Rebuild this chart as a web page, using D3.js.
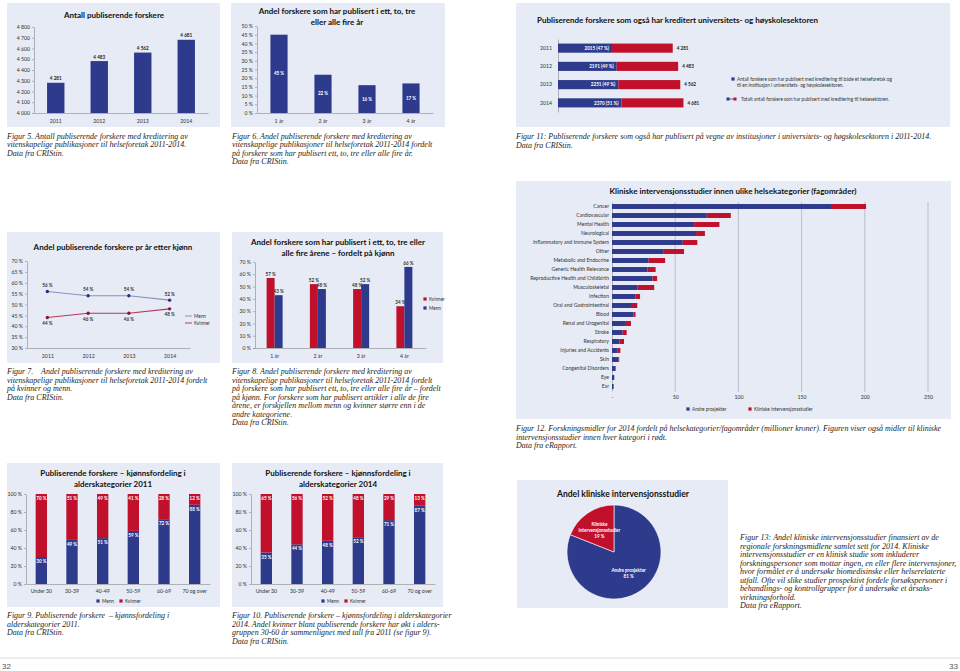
<!DOCTYPE html>
<html><head><meta charset="utf-8">
<script src="https://cdn.jsdelivr.net/npm/d3@7"></script>
<style>
body{margin:0;background:#fff}
svg{display:block}
.cap{font-family:"Liberation Serif",serif;font-style:italic;font-size:8px;fill:#1e1e1e}
.ttl{font-family:Lato,"Open Sans",sans-serif;font-weight:700;fill:#111}
.ax text{font-family:Lato,sans-serif;font-size:5.2px;fill:#333}
.ax path,.ax line{stroke:#8a8a8a;stroke-width:0.6}
.lab{font-family:Lato,sans-serif;font-weight:700;font-size:4.6px}
.leg{font-family:Lato,sans-serif;font-size:4.7px;fill:#333}
</style></head><body>
<svg id="c" width="960" height="671"></svg>
<script>
// ---------- DATA ----------
const years = ["2011", "2012", "2013", "2014"];
const fig5Counts = [4281, 4483, 4562, 4681];
const fig5Ticks = [4000, 4100, 4200, 4300, 4400, 4500, 4600, 4700, 4800];

const fig6Cats = ["1 år", "2 år", "3 år", "4 år"];
const fig6Shares = [45, 22, 16, 17];
const pctTicks50 = [0, 5, 10, 15, 20, 25, 30, 35, 40, 45, 50];

const fig7Menn = [56, 54, 54, 52];
const fig7Kvinner = [44, 46, 46, 48];
const fig7Ticks = [30, 35, 40, 45, 50, 55, 60, 65, 70];

const fig8Kvinner = [57, 52, 48, 34];
const fig8Menn = [43, 48, 52, 66];
const fig8Ticks = [0, 10, 20, 30, 40, 50, 60, 70];

const ageCats = ["Under 30", "30-39", "40-49", "50-59", "60-69", "70 og over"];
const fig9Menn = [30, 49, 51, 59, 72, 88];
const fig9Kvinner = [70, 51, 49, 41, 28, 12];
const fig10Menn = [35, 44, 48, 52, 71, 87];
const fig10Kvinner = [65, 56, 52, 48, 29, 13];
const pctTicks100 = [0, 20, 40, 60, 80, 100];

const fig11Both = [2015, 2191, 2251, 2370];
const fig11BothPct = [47, 49, 49, 51];
const fig11Total = [4281, 4483, 4562, 4681];

const fig12Cats = ["Cancer", "Cardiovascular", "Mental Health", "Neurological", "Inflammatory and Immune System", "Other", "Metabolic and Endocrine", "Generic Health Relevance", "Reproductive Health and Childbirth", "Musculoskeletal", "Infection", "Oral and Gastrointestinal", "Blood", "Renal and Urogenital", "Stroke", "Respiratory", "Injuries and Accidents", "Skin", "Congenital Disorders", "Eye", "Ear"];
const fig12Andre = [174, 75, 65, 66.5, 56, 41, 29, 28, 32, 20, 18.7, 15, 17, 11, 8.4, 5.8, 4.5, 5.3, 2.9, 1.8, 1.3];
const fig12Kliniske = [27, 19, 20, 7, 11.5, 16, 13, 6.5, 3.7, 13.4, 3.5, 5, 1.6, 4, 3.2, 3.7, 2.1, 0.4, 0, 0, 0];
const fig12Ticks = [0, 50, 100, 150, 200, 250];

const fig13Labels = ["Andre prosjekter", "Kliniske intervensjonsstudier"];
const fig13Shares = [81, 19];

// ---------- HELPERS ----------
const svg = d3.select("#c");
const BG = "#e6ebf5", NAVY = "#2e3b8c", RED = "#c1102b";
const nf = d3.formatLocale({decimal: ",", thousands: "\u00a0", grouping: [3], currency: ["", ""]}).format(",");
const pf = d => d + " %";

function panel(x, y, w, h) {
  svg.append("rect").attr("x", x).attr("y", y).attr("width", w).attr("height", h).attr("fill", BG);
}
function title(cx, ys, lines, size, anchor) {
  lines.forEach((t, i) => svg.append("text").attr("class", "ttl").attr("x", cx).attr("y", ys[i])
    .attr("text-anchor", anchor || "middle").attr("font-size", size).text(t));
}
function caption(x, y0, lines, step, size) {
  step = step || 8.5;
  lines.forEach((t, i) => {
    const el = svg.append("text").attr("class", "cap").attr("x", x).attr("y", y0 + i * step)
      .attr("xml:space", "preserve").text(t);
    if (size) el.style("font-size", size + "px");
  });
}
function yAxis(x, scale, ticks, fmt) {
  return svg.append("g").attr("class", "ax").attr("transform", `translate(${x},0)`)
    .call(d3.axisLeft(scale).tickValues(ticks).tickFormat(fmt).tickSize(2).tickSizeOuter(0).tickPadding(2));
}
function xAxis(y, scale, pad) {
  return svg.append("g").attr("class", "ax").attr("transform", `translate(0,${y})`)
    .call(d3.axisBottom(scale).tickSize(0).tickSizeOuter(0).tickPadding(pad));
}
function legSquare(x, y, color, text) {
  svg.append("rect").attr("x", x - 1.6).attr("y", y - 1.6).attr("width", 3.2).attr("height", 3.2).attr("fill", color);
  svg.append("text").attr("class", "leg").attr("x", x + 4).attr("y", y + 1.6).text(text);
}

// ---------- FIG 5 ----------
(function () {
  panel(7, 3, 213, 124);
  title(114, [18], ["Antall publiserende forskere"], 8);
  const y = d3.scaleLinear().domain([4000, 4800]).range([113, 27]);
  const x = d3.scaleBand().domain(years).range([34, 208]).paddingInner(0.6).paddingOuter(0.3);
  yAxis(34, y, fig5Ticks, nf);
  xAxis(113, x, 6);
  svg.selectAll(".b5").data(fig5Counts).enter().append("rect")
    .attr("x", (d, i) => x(years[i])).attr("width", x.bandwidth())
    .attr("y", d => y(d)).attr("height", d => y(4000) - y(d)).attr("fill", NAVY);
  svg.selectAll(".l5").data(fig5Counts).enter().append("text").attr("class", "lab")
    .attr("x", (d, i) => x(years[i]) + x.bandwidth() / 2).attr("y", d => y(d) - 2.5)
    .attr("text-anchor", "middle").attr("fill", "#222").text(nf);
  caption(7, 138.5, ["Figur 5. Antall publiserende forskere med kreditering av",
    "vitenskapelige publikasjoner til helseforetak 2011-2014.", "Data fra CRIStin."]);
})();

// ---------- FIG 6 ----------
(function () {
  panel(231, 3, 214, 124);
  title(337, [14, 25], ["Andel forskere som har publisert i ett, to, tre", "eller alle fire år"], 8);
  const y = d3.scaleLinear().domain([0, 50]).range([113, 26]);
  const x = d3.scaleBand().domain(fig6Cats).range([257, 433]).paddingInner(0.61).paddingOuter(0.305);
  yAxis(257, y, pctTicks50, pf);
  xAxis(113, x, 6);
  svg.selectAll(".b6").data(fig6Shares).enter().append("rect")
    .attr("x", (d, i) => x(fig6Cats[i])).attr("width", x.bandwidth())
    .attr("y", d => y(d)).attr("height", d => y(0) - y(d)).attr("fill", NAVY);
  svg.selectAll(".l6").data(fig6Shares).enter().append("text").attr("class", "lab")
    .attr("x", (d, i) => x(fig6Cats[i]) + x.bandwidth() / 2).attr("y", d => (y(d) + y(0)) / 2 + 1.6)
    .attr("text-anchor", "middle").attr("fill", "#fff").text(pf);
  caption(232, 138.5, ["Figur 6. Andel publiserende forskere med kreditering av",
    "vitenskapelige publikasjoner til helseforetak 2011-2014 fordelt",
    "på forskere som har publisert ett, to, tre eller alle fire år.", "Data fra CRIStin."]);
})();

// ---------- FIG 11 ----------
(function () {
  panel(516, 3, 434, 124);
  title(537, [23], ["Publiserende forskere som også har kreditert universitets- og høyskolesektoren"], 8, "start");
  const y = d3.scaleBand().domain(years).range([39, 112]).paddingInner(0.5).paddingOuter(0.25);
  const x = d3.scaleLinear().domain([0, 5000]).range([558, 692]);
  svg.append("g").attr("class", "ax").attr("transform", "translate(558,0)")
    .call(d3.axisLeft(y).tickSize(0).tickSizeOuter(0).tickPadding(6));
  years.forEach((yr, i) => {
    svg.append("rect").attr("x", x(0)).attr("y", y(yr)).attr("width", x(fig11Both[i]) - x(0))
      .attr("height", y.bandwidth()).attr("fill", NAVY);
    svg.append("rect").attr("x", x(fig11Both[i])).attr("y", y(yr)).attr("width", x(fig11Total[i]) - x(fig11Both[i]))
      .attr("height", y.bandwidth()).attr("fill", RED);
    svg.append("text").attr("class", "lab").attr("x", x(fig11Both[i]) - 3).attr("y", y(yr) + y.bandwidth() / 2 + 1.7)
      .attr("text-anchor", "end").attr("fill", "#fff").text(`${fig11Both[i]} (${fig11BothPct[i]} %)`);
    svg.append("text").attr("class", "lab").attr("x", x(fig11Total[i]) + 4).attr("y", y(yr) + y.bandwidth() / 2 + 1.8)
      .attr("fill", "#222").attr("font-size", 5.3).text(nf(fig11Total[i]));
  });
  legSquare(733, 79, NAVY, "Antall forskere som har publisert med kreditering til både et helseforetak og");
  svg.append("text").attr("class", "leg").attr("x", 737).attr("y", 86.6).text("til en institusjon i universitets- og høyskolesektoren.");
  svg.append("line").attr("x1", 728).attr("x2", 735).attr("y1", 99).attr("y2", 99).attr("stroke", NAVY).attr("stroke-width", 0.8);
  svg.append("rect").attr("x", 726.5).attr("y", 97.5).attr("width", 3).attr("height", 3).attr("fill", NAVY);
  svg.append("rect").attr("x", 733.5).attr("y", 97.5).attr("width", 3).attr("height", 3).attr("fill", RED);
  svg.append("text").attr("class", "leg").attr("x", 741).attr("y", 100.6).text("Totalt antall forskere som har publisert med kreditering til helsesektoren.");
  caption(516, 139, ["Figur 11: Publiserende forskere som også har publisert på vegne av institusjoner i universitets- og høgskolesektoren i 2011-2014.",
    "Data fra CRIStin."]);
})();

// ---------- FIG 12 ----------
(function () {
  panel(516, 181, 435, 238);
  title(733, [194], ["Kliniske intervensjonsstudier innen ulike helsekategorier (fagområder)"], 8);
  const x = d3.scaleLinear().domain([0, 250]).range([612, 928]);
  const y = d3.scaleBand().domain(fig12Cats).range([202, 391]).paddingInner(0.45).paddingOuter(0.225);
  svg.append("g").selectAll("line").data(fig12Ticks.slice(1)).enter().append("line")
    .attr("x1", d => x(d)).attr("x2", d => x(d)).attr("y1", 202).attr("y2", 392)
    .attr("stroke", "#a6abbd").attr("stroke-width", 0.7);
  const xa = svg.append("g").attr("class", "ax").attr("transform", "translate(0,391)")
    .call(d3.axisBottom(x).tickValues(fig12Ticks).tickFormat(d => d === 0 ? "-" : d).tickSize(0).tickPadding(4));
  xa.select(".domain").remove();
  const ya = svg.append("g").attr("class", "ax").attr("transform", "translate(612,0)")
    .call(d3.axisLeft(y).tickSize(0).tickSizeOuter(0).tickPadding(3));
  ya.selectAll("text").style("font-size", "5.1px");
  fig12Cats.forEach((c, i) => {
    svg.append("rect").attr("x", x(0)).attr("y", y(c)).attr("width", x(fig12Andre[i]) - x(0))
      .attr("height", y.bandwidth()).attr("fill", NAVY);
    svg.append("rect").attr("x", x(fig12Andre[i])).attr("y", y(c))
      .attr("width", x(fig12Andre[i] + fig12Kliniske[i]) - x(fig12Andre[i]))
      .attr("height", y.bandwidth()).attr("fill", RED);
  });
  legSquare(688, 409, NAVY, "Andre prosjekter");
  legSquare(750, 409, RED, "Kliniske intervensjonsstudier");
  caption(516, 431, ["Figur 12. Forskningsmidler for 2014 fordelt på helsekategorier/fagområder (millioner kroner). Figuren viser også midler til kliniske",
    "intervensjonsstudier innen hver kategori i rødt.", "Data fra eRapport."]);
})();

// ---------- FIG 7 ----------
(function () {
  panel(7, 232, 213, 131);
  title(113, [250], ["Andel publiserende forskere pr år etter kjønn"], 8);
  const y = d3.scaleLinear().domain([30, 70]).range([348, 261]);
  const x = d3.scalePoint().domain(years).range([27, 190]).padding(0.5);
  yAxis(27, y, fig7Ticks, pf);
  xAxis(348, x, 6);
  const series = [
    {vals: fig7Menn, line: "#8592bf", mark: "#26307a", off: -4.5, name: "Menn"},
    {vals: fig7Kvinner, line: "#b63a5c", mark: "#8a1436", off: 7.5, name: "Kvinner"}
  ];
  series.forEach((s, k) => {
    svg.append("path").datum(s.vals).attr("fill", "none").attr("stroke", s.line).attr("stroke-width", 1.1)
      .attr("d", d3.line().x((d, i) => x(years[i])).y(d => y(d)));
    svg.selectAll(null).data(s.vals).enter().append("circle")
      .attr("cx", (d, i) => x(years[i])).attr("cy", d => y(d)).attr("r", 1.7).attr("fill", s.mark);
    svg.selectAll(null).data(s.vals).enter().append("text").attr("class", "lab").attr("fill", "#333")
      .attr("x", (d, i) => x(years[i])).attr("y", d => y(d) + s.off).attr("text-anchor", "middle").text(pf);
    svg.append("line").attr("x1", 185).attr("x2", 192).attr("y1", 316 + 7 * k).attr("y2", 316 + 7 * k)
      .attr("stroke", s.line).attr("stroke-width", 1);
    svg.append("text").attr("class", "leg").attr("x", 194).attr("y", 317.6 + 7 * k).text(s.name);
  });
  caption(7, 374, ["Figur 7.    Andel publiserende forskere med kreditering av",
    "vitenskapelige publikasjoner til helseforetak 2011-2014 fordelt",
    "på kvinner og menn.", "Data fra CRIStin."]);
})();

// ---------- FIG 8 ----------
(function () {
  panel(232, 232, 211, 131);
  title(338, [245, 256], ["Andel forskere som har publisert i ett, to, tre eller", "alle fire årene – fordelt på kjønn"], 8);
  const y = d3.scaleLinear().domain([0, 70]).range([348, 262]);
  const x = d3.scaleBand().domain(fig6Cats).range([253, 426]).paddingInner(0.63).paddingOuter(0.315);
  const xs = d3.scaleBand().domain(["Kvinner", "Menn"]).range([0, x.bandwidth()]);
  yAxis(255, y, fig8Ticks, pf);
  xAxis(348, x, 6);
  const groups = [{name: "Kvinner", vals: fig8Kvinner, col: RED}, {name: "Menn", vals: fig8Menn, col: NAVY}];
  groups.forEach((s, k) => {
    svg.selectAll(null).data(s.vals).enter().append("rect")
      .attr("x", (d, i) => x(fig6Cats[i]) + xs(s.name)).attr("width", xs.bandwidth())
      .attr("y", d => y(d)).attr("height", d => y(0) - y(d)).attr("fill", s.col);
    svg.selectAll(null).data(s.vals).enter().append("text").attr("class", "lab").attr("fill", "#333")
      .attr("x", (d, i) => x(fig6Cats[i]) + xs(s.name) + xs.bandwidth() / 2).attr("y", d => y(d) - 2)
      .attr("text-anchor", "middle").text(pf);
    legSquare(425, 299 + 9 * k, s.col, s.name);
  });
  caption(232, 374, ["Figur 8. Andel publiserende forskere med kreditering av",
    "vitenskapelige publikasjoner til helseforetak 2011-2014 fordelt",
    "på forskere som har publisert ett, to, tre eller alle fire år – fordelt",
    "på kjønn. For forskere som har publisert artikler i alle de fire",
    "årene, er forskjellen mellom menn og kvinner større enn i de",
    "andre kategoriene.", "Data fra CRIStin."]);
})();

// ---------- FIG 9 / FIG 10 ----------
function ageChart(dx, yr, menn, kvinner, capLines) {
  panel(7 + dx, 463, 213 - (dx ? 2 : 0), 144);
  title(113 + dx, [476, 487], ["Publiserende forskere – kjønnsfordeling i", "alderskategorier " + yr], 8);
  const y = d3.scaleLinear().domain([0, 100]).range([584, 494]);
  const x = d3.scaleBand().domain(ageCats).range([26 + dx, 210 + dx]).paddingInner(0.63).paddingOuter(0.315);
  yAxis(26 + dx, y, pctTicks100, pf);
  xAxis(584, x, 5);
  ageCats.forEach((c, i) => {
    svg.append("rect").attr("x", x(c)).attr("width", x.bandwidth()).attr("y", y(menn[i]))
      .attr("height", y(0) - y(menn[i])).attr("fill", NAVY);
    svg.append("rect").attr("x", x(c)).attr("width", x.bandwidth()).attr("y", y(menn[i] + kvinner[i]))
      .attr("height", y(menn[i]) - y(menn[i] + kvinner[i])).attr("fill", RED);
    svg.append("text").attr("class", "lab").attr("fill", "#fff").attr("text-anchor", "middle")
      .attr("x", x(c) + x.bandwidth() / 2).attr("y", y(menn[i]) + 6).text(pf(menn[i]));
    svg.append("text").attr("class", "lab").attr("fill", "#fff").attr("text-anchor", "middle")
      .attr("x", x(c) + x.bandwidth() / 2).attr("y", y(menn[i] + kvinner[i]) + 6).text(pf(kvinner[i]));
  });
  legSquare(98 + dx, 601, NAVY, "Menn");
  legSquare(121 + dx, 601, RED, "Kvinner");
  caption(7 + dx, 618, capLines);
}
ageChart(0, 2011, fig9Menn, fig9Kvinner, ["Figur 9. Publiserende forskere  – kjønnsfordeling i",
  "alderskategorier 2011.", "Data fra CRIStin."]);
ageChart(225, 2014, fig10Menn, fig10Kvinner, ["Figur 10. Publiserende forskere – kjønnsfordeling i alderskategorier",
  "2014. Andel kvinner blant publiserende forskere har økt i alders-",
  "gruppen 30-60 år sammenlignet med tall fra 2011 (se figur 9).", "Data fra CRIStin."]);

// ---------- FIG 13 ----------
(function () {
  panel(517, 480, 211, 128);
  title(623, [497], ["Andel kliniske intervensjonsstudier"], 8.5);
  const r = 47, cx = 614, cy = 552;
  const pie = d3.pie().sort(null).value(d => d);
  const arcs = pie(fig13Shares);
  const arc = d3.arc().innerRadius(0).outerRadius(r);
  const lab = d3.arc().innerRadius(26).outerRadius(26);
  const g = svg.append("g").attr("transform", `translate(${cx},${cy})`);
  g.selectAll("path").data(arcs).enter().append("path").attr("d", arc)
    .attr("fill", (d, i) => i === 0 ? NAVY : RED).attr("stroke", "#fff").attr("stroke-width", 0.6);
  const lines = [["Andre prosjekter", fig13Shares[0] + " %"], ["Kliniske", "intervensjonsstudier", fig13Shares[1] + " %"]];
  arcs.forEach((a, i) => {
    const [lx, ly] = lab.centroid(a);
    const t = g.append("text").attr("class", "lab").attr("fill", "#fff").attr("text-anchor", "middle").attr("font-size", 4.3);
    const ls = lines[i];
    ls.forEach((s, j) => t.append("tspan").attr("x", lx).attr("y", ly + (j - (ls.length - 1) / 2) * 5.6 + 1.5).text(s));
  });
  caption(740, 540, ["Figur 13: Andel kliniske intervensjonsstudier finansiert av de",
    "regionale forskningsmidlene samlet sett for 2014. Kliniske",
    "intervensjonsstudier er en klinisk studie som inkluderer",
    "forskningspersoner som mottar ingen, en eller flere intervensjoner,",
    "hvor formålet er å undersøke biomedisinske eller helserelaterte",
    "utfall. Ofte vil slike studier prospektivt fordele forsøkspersoner i",
    "behandlings- og kontrollgrupper for å undersøke et årsaks-",
    "virkningsforhold.", "Data fra eRapport."], 8.5, 8.1);
})();

// ---------- PAGE FOOTER ----------
svg.append("line").attr("x1", 0).attr("x2", 960).attr("y1", 658).attr("y2", 658).attr("stroke", "#c8c8c8").attr("stroke-width", 0.6);
svg.append("text").attr("x", 2).attr("y", 669).attr("font-family", "Liberation Sans").attr("font-size", 8).attr("fill", "#555").text("32");
svg.append("text").attr("x", 958).attr("y", 669).attr("text-anchor", "end").attr("font-family", "Liberation Sans").attr("font-size", 8).attr("fill", "#555").text("33");
</script>
</body></html>
